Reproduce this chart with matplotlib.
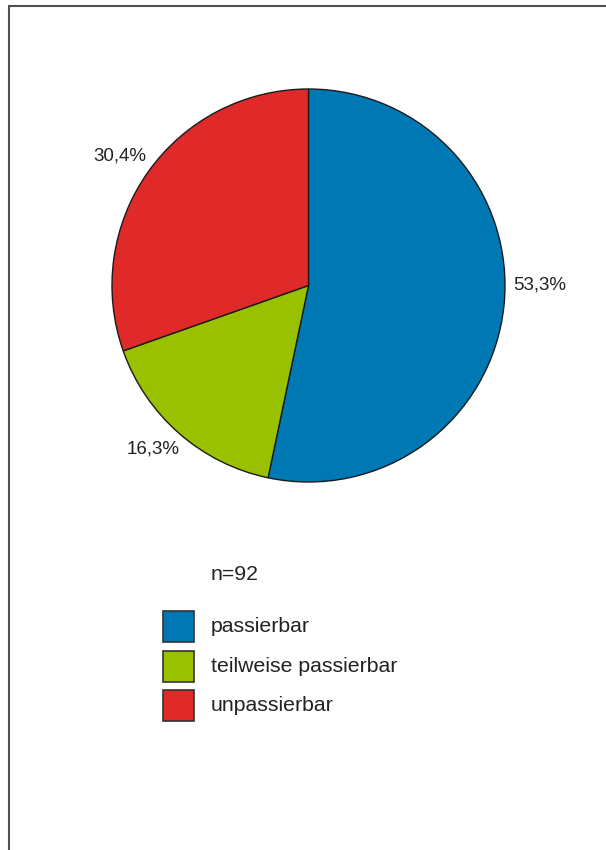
import matplotlib
matplotlib.use("Agg")
from matplotlib import pyplot as plt
from matplotlib.patches import Rectangle
import numpy as np

plt.rcParams['font.family'] = ['Liberation Sans', 'DejaVu Sans']

categories = ['passierbar', 'teilweise passierbar', 'unpassierbar']
shares = [53.3, 16.3, 30.4]
colors = ['#0078B4', '#9AC100', '#DF2A29']
n_total = 92

W, H = 606, 850
fig = plt.figure(figsize=(W / 100, H / 100), dpi=100)

# outer frame (only left and top edges fall inside the page)
fig.patches.append(Rectangle((9 / W, -0.1), 1.2, 1 - 6 / H + 0.1,
                             transform=fig.transFigure, fill=False,
                             edgecolor='#505050', linewidth=1.5))

# pie axes: square box of 393 px centred at (308.5, 285.5)
cx, cy, r = 308.5, 285.5, 196.5
ax = fig.add_axes([(cx - r) / W, (H - cy - r) / H, 2 * r / W, 2 * r / H])
wedges, _ = ax.pie(shares, colors=colors, startangle=90, counterclock=False,
                   radius=1.0,
                   wedgeprops=dict(edgecolor='#1a1a1a', linewidth=1.0))
ax.set_xlim(-1, 1)
ax.set_ylim(-1, 1)
ax.set_aspect('auto')
ax.axis('off')

# percentage labels next to the slices
label_pos = [(1.04, 0.0, 'left'), (-0.79, -0.83, 'center'), (-0.96, 0.66, 'center')]
for val, (lx, ly, ha) in zip(shares, label_pos):
    ax.text(lx, ly, f"{val:.1f}%".replace('.', ','), ha=ha, va='center',
            fontsize=13.5, color='#222222')

# legend drawn by hand
def px(x, y):
    return x / W, 1 - y / H

fig.text(*px(211, 575), f"n={n_total}", fontsize=15.3, va='center',
         ha='left', color='#222222')
for i, (name, col) in enumerate(zip(categories, colors)):
    y0 = 611 + i * 39.5
    fig.patches.append(Rectangle(px(163, y0 + 31), 31 / W, 31 / H,
                                 transform=fig.transFigure, facecolor=col,
                                 edgecolor='#333333', linewidth=1.2))
    fig.text(*px(211, y0 + 15.5), name, fontsize=15.3, va='center',
             ha='left', color='#222222')

fig.savefig('out.png', dpi=100)
